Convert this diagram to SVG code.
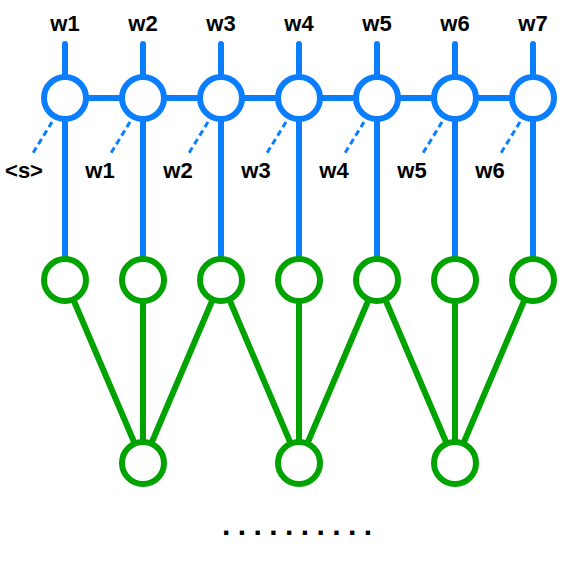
<svg xmlns="http://www.w3.org/2000/svg" width="569" height="564" viewBox="0 0 569 564">
<style>
.b{stroke:#0A7EFF;stroke-width:6;fill:none;stroke-linecap:round}
.g{stroke:#00A300;stroke-width:6;fill:none;stroke-linecap:round}
.d{stroke:#0A7EFF;stroke-width:3;fill:none;stroke-dasharray:6 4}
.nb{fill:#fff;stroke:#0A7EFF;stroke-width:6}
.ng{fill:#fff;stroke:#00A300;stroke-width:6}
text{font-family:"Liberation Sans",Arial,Helvetica,sans-serif;font-weight:bold;font-size:22px;fill:#000;text-anchor:middle}
</style>
<rect width="569" height="564" fill="#fff"/>
<g id="connectors">
<line class="b" x1="65" y1="44" x2="65" y2="98"/>
<line class="b" x1="143" y1="44" x2="143" y2="98"/>
<line class="b" x1="221" y1="44" x2="221" y2="98"/>
<line class="b" x1="299" y1="44" x2="299" y2="98"/>
<line class="b" x1="377" y1="44" x2="377" y2="98"/>
<line class="b" x1="455" y1="44" x2="455" y2="98"/>
<line class="b" x1="533" y1="44" x2="533" y2="98"/>
<line class="b" x1="65" y1="98" x2="533" y2="98"/>
<line class="b" x1="65" y1="98" x2="65" y2="260"/>
<line class="b" x1="143" y1="98" x2="143" y2="260"/>
<line class="b" x1="221" y1="98" x2="221" y2="260"/>
<line class="b" x1="299" y1="98" x2="299" y2="260"/>
<line class="b" x1="377" y1="98" x2="377" y2="260"/>
<line class="b" x1="455" y1="98" x2="455" y2="260"/>
<line class="b" x1="533" y1="98" x2="533" y2="260"/>
<line class="d" x1="52" y1="122" x2="33" y2="153"/>
<line class="d" x1="130" y1="122" x2="111" y2="153"/>
<line class="d" x1="208" y1="122" x2="189" y2="153"/>
<line class="d" x1="286" y1="122" x2="267" y2="153"/>
<line class="d" x1="364" y1="122" x2="345" y2="153"/>
<line class="d" x1="442" y1="122" x2="423" y2="153"/>
<line class="d" x1="520" y1="122" x2="501" y2="153"/>
<line class="g" x1="65" y1="280" x2="143" y2="463"/>
<line class="g" x1="143" y1="280" x2="143" y2="463"/>
<line class="g" x1="221" y1="280" x2="143" y2="463"/>
<line class="g" x1="221" y1="280" x2="299" y2="463"/>
<line class="g" x1="299" y1="280" x2="299" y2="463"/>
<line class="g" x1="377" y1="280" x2="299" y2="463"/>
<line class="g" x1="377" y1="280" x2="455" y2="463"/>
<line class="g" x1="455" y1="280" x2="455" y2="463"/>
<line class="g" x1="533" y1="280" x2="455" y2="463"/>
</g>
<g id="top-labels">
<text x="65" y="31">w1</text>
<text x="143" y="31">w2</text>
<text x="221" y="31">w3</text>
<text x="299" y="31">w4</text>
<text x="377" y="31">w5</text>
<text x="455" y="31">w6</text>
<text x="533" y="31">w7</text>
</g>
<g id="input-labels">
<text x="24" y="178">&lt;s&gt;</text>
<text x="100" y="178">w1</text>
<text x="178" y="178">w2</text>
<text x="256" y="178">w3</text>
<text x="334" y="178">w4</text>
<text x="412" y="178">w5</text>
<text x="490" y="178">w6</text>
</g>
<g id="rnn1"><circle class="nb" cx="65" cy="98" r="21"/></g>
<g id="rnn2"><circle class="nb" cx="143" cy="98" r="21"/></g>
<g id="rnn3"><circle class="nb" cx="221" cy="98" r="21"/></g>
<g id="rnn4"><circle class="nb" cx="299" cy="98" r="21"/></g>
<g id="rnn5"><circle class="nb" cx="377" cy="98" r="21"/></g>
<g id="rnn6"><circle class="nb" cx="455" cy="98" r="21"/></g>
<g id="rnn7"><circle class="nb" cx="533" cy="98" r="21"/></g>
<g id="h1"><circle class="ng" cx="65" cy="280" r="21"/></g>
<g id="h2"><circle class="ng" cx="143" cy="280" r="21"/></g>
<g id="h3"><circle class="ng" cx="221" cy="280" r="21"/></g>
<g id="h4"><circle class="ng" cx="299" cy="280" r="21"/></g>
<g id="h5"><circle class="ng" cx="377" cy="280" r="21"/></g>
<g id="h6"><circle class="ng" cx="455" cy="280" r="21"/></g>
<g id="h7"><circle class="ng" cx="533" cy="280" r="21"/></g>
<g id="p1"><circle class="ng" cx="143" cy="463" r="21"/></g>
<g id="p2"><circle class="ng" cx="299" cy="463" r="21"/></g>
<g id="p3"><circle class="ng" cx="455" cy="463" r="21"/></g>
<g id="dots"><text x="222" y="535" style="font-size:30px;text-anchor:start" textLength="150" lengthAdjust="spacing">..........</text></g>
</svg>
